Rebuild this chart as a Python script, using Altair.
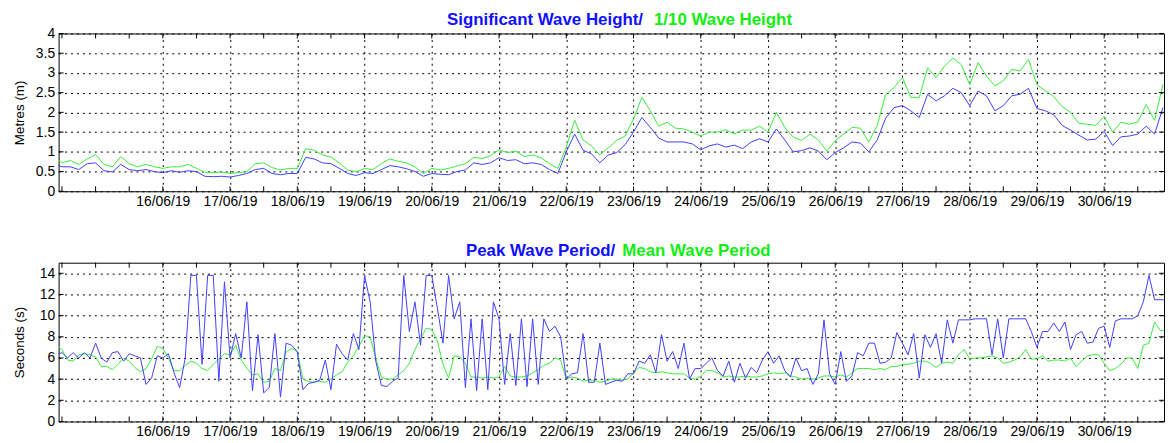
import altair as alt
import pandas as pd

FONT = "Liberation Sans"
BLUE_LINE = "#4040ff"
GREEN_LINE = "#3cec3c"
BLUE_TXT = "#1010ff"
GREEN_TXT = "#10ee10"

# ---------------- data ----------------
# Significant wave height (m), 3-hourly from 14/06/19 09:00
hs = [
    0.70, 0.62, 0.62, 0.55, 0.70,                      # 14/06 09..21
    0.72, 0.52, 0.49, 0.68, 0.55, 0.52, 0.55, 0.50,    # 15/06
    0.47, 0.52, 0.48, 0.52, 0.50, 0.38, 0.37, 0.38,    # 16/06
    0.36, 0.40, 0.45, 0.55, 0.58, 0.45, 0.42, 0.45,    # 17/06
    0.45, 0.86, 0.82, 0.72, 0.70, 0.58, 0.45, 0.40,    # 18/06
    0.47, 0.45, 0.55, 0.65, 0.62, 0.57, 0.50, 0.38,    # 19/06
    0.45, 0.43, 0.42, 0.50, 0.54, 0.72, 0.68, 0.72,    # 20/06
    0.85, 0.78, 0.80, 0.70, 0.72, 0.68, 0.55, 0.45,    # 21/06
    1.00, 1.45, 1.04, 0.95, 0.72, 0.92, 0.98, 1.18,    # 22/06
    1.50, 1.87, 1.62, 1.35, 1.25, 1.25, 1.25, 1.20,    # 23/06
    1.05, 1.15, 1.20, 1.12, 1.17, 1.08, 1.25, 1.33,    # 24/06
    1.25, 1.58, 1.30, 1.00, 1.03, 1.10, 1.02, 0.80,    # 25/06
    0.98, 1.10, 1.25, 1.22, 1.00, 1.30, 1.85, 2.12,    # 26/06
    2.17, 2.04, 1.87, 2.46, 2.29, 2.42, 2.61, 2.50,    # 27/06
    2.17, 2.54, 2.42, 2.04, 2.17, 2.42, 2.46, 2.61,    # 28/06
    2.10, 2.04, 1.94, 1.67, 1.55, 1.42, 1.30, 1.32,    # 29/06
    1.52, 1.16, 1.38, 1.40, 1.45, 1.65, 1.45, 2.12,    # 30/06
]
# 1/10 wave height (m), same times
h10 = [
    0.90, 0.72, 0.78, 0.68, 0.82,
    0.93, 0.68, 0.62, 0.88, 0.70, 0.62, 0.68, 0.62,
    0.58, 0.62, 0.62, 0.68, 0.58, 0.48, 0.47, 0.49,
    0.45, 0.47, 0.50, 0.70, 0.72, 0.60, 0.54, 0.58,
    0.58, 1.08, 1.04, 0.92, 0.87, 0.72, 0.54, 0.49,
    0.58, 0.55, 0.70, 0.82, 0.76, 0.72, 0.62, 0.45,
    0.58, 0.54, 0.58, 0.64, 0.70, 0.86, 0.83, 0.90,
    1.05, 0.98, 1.02, 0.88, 0.92, 0.85, 0.70, 0.58,
    1.12, 1.80, 1.30, 1.15, 0.92, 1.10, 1.29, 1.40,
    1.83, 2.38, 2.04, 1.65, 1.75, 1.60, 1.58, 1.50,
    1.40, 1.50, 1.50, 1.56, 1.45, 1.55, 1.55, 1.65,
    1.50, 2.00, 1.62, 1.37, 1.29, 1.45, 1.30, 1.02,
    1.28, 1.45, 1.62, 1.60, 1.25, 1.67, 2.45, 2.63,
    2.88, 2.38, 2.38, 3.13, 2.88, 3.17, 3.38, 3.21,
    2.70, 3.26, 2.92, 2.67, 2.80, 3.09, 3.05, 3.34,
    2.70, 2.55, 2.40, 2.15, 2.00, 1.72, 1.70, 1.67,
    1.90, 1.50, 1.75, 1.70, 1.75, 2.20, 1.80, 2.71,
]
# Peak wave period (s), 2-hourly from 14/06/19 10:00
tp = [
    6.3, 6.5, 6.0, 6.5, 6.0, 6.5, 6.0,                                  # 14/06 10..22
    7.4, 6.0, 5.6, 6.5, 6.6, 5.7, 6.4, 6.2, 6.0, 3.5, 4.1, 6.2,          # 15/06
    6.0, 6.4, 4.6, 3.2, 6.0, 13.8, 13.8, 5.4, 13.8, 13.8, 3.8, 13.2,     # 16/06
    6.0, 8.3, 6.0, 11.3, 2.9, 8.2, 2.7, 3.2, 8.3, 2.3, 7.4, 7.2,         # 17/06
    6.6, 3.0, 3.6, 3.7, 3.9, 5.8, 3.0, 7.3, 6.4, 5.8, 8.3, 6.8,          # 18/06
    13.8, 11.3, 5.7, 3.4, 3.3, 3.8, 4.1, 13.8, 8.5, 11.3, 7.2, 13.8,     # 19/06
    13.8, 10.7, 7.4, 13.8, 9.7, 11.3, 3.2, 9.7, 2.9, 9.7, 3.0, 11.3,     # 20/06
    9.7, 3.5, 8.3, 3.4, 9.7, 3.3, 9.7, 3.5, 9.7, 8.5, 9.0, 8.0,          # 21/06
    4.0, 4.5, 4.6, 8.3, 3.7, 3.7, 7.4, 3.5, 3.7, 3.9, 3.8, 4.5,          # 22/06
    4.5, 5.7, 5.5, 6.3, 4.6, 8.2, 5.7, 6.6, 5.0, 7.4, 4.0, 5.0,          # 23/06
    5.0, 5.5, 6.0, 4.8, 4.3, 5.7, 3.7, 5.5, 4.1, 5.1, 4.6, 5.8,          # 24/06
    6.6, 5.5, 6.2, 4.8, 4.2, 6.0, 4.8, 5.0, 3.5, 4.5, 9.6, 4.5,          # 25/06
    3.5, 6.6, 3.8, 4.3, 6.5, 6.2, 7.4, 7.4, 5.5, 5.6, 6.0, 8.4,          # 26/06
    7.4, 6.3, 8.3, 4.1, 8.2, 7.0, 8.3, 5.5, 9.6, 7.4, 9.6, 9.6,          # 27/06
    9.6, 9.7, 9.7, 9.7, 6.3, 9.7, 6.0, 9.7, 9.7, 9.7, 9.7, 8.5,          # 28/06
    7.0, 8.5, 8.5, 9.3, 8.5, 9.4, 6.8, 8.2, 8.5, 7.4, 7.5, 8.8,          # 29/06
    9.0, 7.0, 9.5, 9.7, 9.7, 9.7, 10.0, 11.3, 13.8, 11.5, 11.5, 11.5,    # 30/06
]
# Mean wave period (s), same times
tm = [
    7.2, 6.8, 5.8, 5.7, 6.3, 6.4, 6.3,
    6.1, 5.2, 5.2, 4.9, 5.4, 6.0, 5.7, 5.1, 4.7, 5.0, 5.9, 7.1,
    6.9, 6.0, 4.8, 4.8, 5.3, 5.7, 5.5, 5.0, 4.8, 5.4, 5.9, 6.4,
    6.3, 7.2, 5.8, 5.0, 4.4, 4.5, 3.7, 3.8, 5.0, 4.8, 6.6, 6.9,
    6.6, 4.0, 3.8, 3.7, 3.8, 3.7, 4.0, 4.4, 4.7, 5.6, 6.2, 7.1,
    8.1, 8.0, 6.0, 4.2, 4.0, 4.0, 4.4, 4.8, 5.5, 6.8, 7.8, 8.8,
    8.7, 7.6, 5.4, 4.1, 6.2, 6.1, 5.5, 4.2, 4.2, 4.1, 4.2, 4.1,
    4.2, 5.2, 4.3, 4.2, 4.2, 4.3, 4.6, 4.9, 5.3, 5.5, 6.0, 5.8,
    4.0, 4.2, 4.1, 3.8, 3.9, 3.9, 3.7, 3.8, 4.0, 4.0, 3.9, 4.0,
    4.6, 5.1, 5.0, 4.7, 4.6, 4.7, 4.6, 4.5, 4.5, 4.5, 4.1, 4.0,
    4.3, 4.8, 4.8, 4.6, 4.2, 4.3, 4.2, 4.2, 4.3, 4.2, 4.2, 4.3,
    4.5, 4.6, 4.5, 4.6, 4.3, 4.2, 4.0, 4.1, 4.0, 4.1, 4.3, 4.3,
    4.2, 4.4, 4.2, 4.6, 5.0, 5.0, 5.0, 4.9, 5.0, 4.9, 5.2, 5.2,
    5.4, 5.4, 5.5, 5.7, 5.7, 5.5, 5.1, 5.5, 5.6, 5.5, 6.3, 6.8,
    5.9, 6.0, 6.0, 6.1, 6.2, 6.0, 5.5, 5.6, 5.8, 6.1, 6.8, 5.9,
    5.9, 6.2, 5.7, 5.8, 5.8, 5.7, 6.0, 5.2, 5.7, 6.2, 6.3, 6.3,
    5.5, 4.8, 5.0, 5.4, 6.0, 6.0, 5.0, 7.2, 7.4, 9.4, 8.6, 8.6,
]

height_ticks = [0, 0.5, 1, 1.5, 2, 2.5, 3, 3.5, 4]
period_ticks = [0, 2, 4, 6, 8, 10, 12, 14]
labelled_days = list(range(16, 31))

title_top = ["Significant Wave Height/", "1/10 Wave Height"]
title_bot = ["Peak Wave Period/", "Mean Wave Period"]
ytitle_top = "Metres (m)"
ytitle_bot = "Seconds (s)"

# ---------------- frames ----------------
t_h = pd.date_range("2019-06-14 09:00", periods=len(hs), freq="3h")
t_p = pd.date_range("2019-06-14 10:00", periods=len(tp), freq="2h")
df_hs = pd.DataFrame({"t": t_h, "v": hs})
df_h10 = pd.DataFrame({"t": t_h, "v": h10})
df_tp = pd.DataFrame({"t": t_p, "v": tp})
df_tm = pd.DataFrame({"t": t_p, "v": tm})
df_xt = pd.DataFrame({"t": pd.date_range("2019-06-14 12:00", "2019-06-30 12:00", freq="12h")})

W = 1114
H1 = 159
H2 = 160

x_dom = [alt.DateTime(year=2019, month=6, date=14, hours=10, minutes=48),
         alt.DateTime(year=2019, month=6, date=30, hours=21, minutes=22)]
day_vals = [alt.DateTime(year=2019, month=6, date=d) for d in labelled_days]
xscale = alt.Scale(domain=x_dom)
GRID_DASH = [2, 4]


def panel(d_green, d_blue, ticks, ydom, ytitle, H, titles, ty, tx_right, tx_left):
    yscale = alt.Scale(domain=ydom, nice=False, zero=False)
    xaxis = alt.Axis(values=day_vals, format="%d/%m/%y", labelFont=FONT, labelFontSize=14,
                     labelColor="black", labelPadding=3, grid=True, gridColor="black",
                     gridDash=GRID_DASH, gridOpacity=1, gridWidth=1, ticks=False, domain=False,
                     title=None, labelFlush=False, labelOverlap=False)
    yaxis = alt.Axis(values=ticks, format="~g", labelFont=FONT, labelFontSize=14,
                     labelColor="black", labelPadding=4, grid=True, gridColor="black",
                     gridDash=GRID_DASH, gridOpacity=1, gridWidth=1, ticks=False, domain=False,
                     title=ytitle, titleFont=FONT, titleFontSize=13.5, titleFontWeight="normal",
                     titleColor="black", titleX=-39, titleY=H / 2, titleAngle=270,
                     titleAlign="center", titleBaseline="middle")
    X = alt.X("t:T", scale=xscale, axis=xaxis)
    Y = alt.Y("v:Q", scale=yscale, axis=yaxis)
    g = alt.Chart(d_green).mark_line(color=GREEN_LINE, strokeWidth=1, clip=True).encode(x=X, y=Y)
    b = alt.Chart(d_blue).mark_line(color=BLUE_LINE, strokeWidth=1, clip=True).encode(x=X, y=Y)
    xt_top = alt.Chart(df_xt).mark_rule(color="black", strokeWidth=1).encode(
        x=X, y=alt.value(0), y2=alt.value(5))
    xt_bot = alt.Chart(df_xt).mark_rule(color="black", strokeWidth=1).encode(
        x=X, y=alt.value(H), y2=alt.value(H - 5))
    dfy = pd.DataFrame({"v": ticks})
    yt_l = alt.Chart(dfy).mark_rule(color="black", strokeWidth=1).encode(
        y=Y, x=alt.value(0), x2=alt.value(5))
    yt_r = alt.Chart(dfy).mark_rule(color="black", strokeWidth=1).encode(
        y=Y, x=alt.value(W - 5), x2=alt.value(W))
    t1 = alt.Chart(pd.DataFrame({"s": [titles[0]]})).mark_text(
        align="right", baseline="alphabetic", font=FONT, fontSize=17, fontWeight="bold",
        color=BLUE_TXT).encode(x=alt.value(tx_right), y=alt.value(ty), text="s:N")
    t2 = alt.Chart(pd.DataFrame({"s": [titles[1]]})).mark_text(
        align="left", baseline="alphabetic", font=FONT, fontSize=17, fontWeight="bold",
        color=GREEN_TXT).encode(x=alt.value(tx_left), y=alt.value(ty), text="s:N")
    return alt.layer(g, b, xt_top, xt_bot, yt_l, yt_r, t1, t2).properties(width=W, height=H)


top = panel(df_h10, df_hs, height_ticks, [0, 4], ytitle_top, H1, title_top, -9, 589, 600)
bot = panel(df_tm, df_tp, period_ticks, [0, 15], ytitle_bot, H2, title_bot, -7, 561, 568)

chart = alt.vconcat(top, bot, spacing=72, bounds="flush").properties(
    padding={"left": 4, "top": 0, "right": 0, "bottom": 0}
).configure_view(stroke="black", strokeWidth=1)

chart.save("out.html", embed_options={"renderer": "svg", "actions": False})
